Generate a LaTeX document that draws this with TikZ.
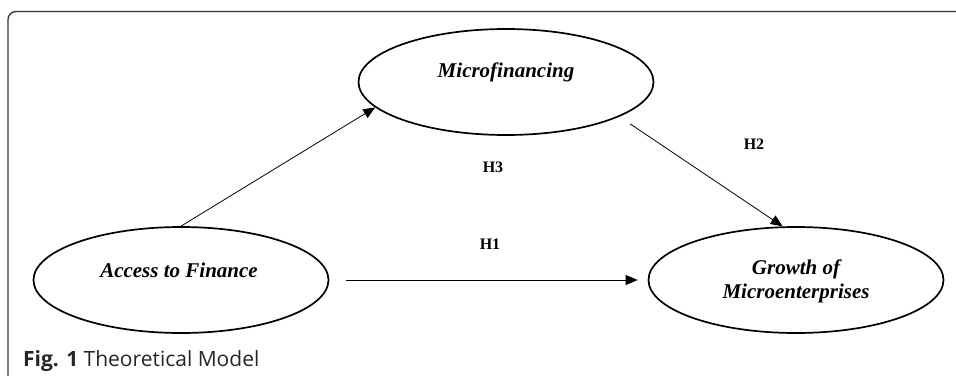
\documentclass[tikz,border=0pt]{standalone}
\usepackage{fontspec}
\setmainfont{Liberation Serif}
\setsansfont{Open Sans}
\usetikzlibrary{shapes.geometric,arrows.meta}
\begin{document}
\begin{tikzpicture}[x=1pt,y=-1pt,
  latent/.style={draw,line width=1.7pt,ellipse,minimum width=295pt,minimum height=106pt,inner sep=0pt},
  lbl/.style={font=\fontsize{21}{24}\selectfont\bfseries\itshape,align=center},
  hyp/.style={font=\fontsize{16}{18}\selectfont\bfseries},
  link/.style={line width=0.8pt,-{Triangle[length=12pt,width=10pt]}}]
\useasboundingbox (0,0) rectangle (956,375);
\draw[line width=1.3pt,black!80,rounded corners=8pt] (8,380) -- (8,11.5) -- (962,11.5);
\node[latent] (acc) at (181,280) {};
\node[latent] (mic) at (506,82) {};
\node[latent] (gro) at (796,280) {};
\node[lbl] (acct) at (179,270) {Access to Finance};
\node[lbl] (mict) at (506,72) {Microfinancing};
\node[lbl] (grot) at (796,281) {Growth of\\Microenterprises};
\draw[link] (acc.north) -- (mic.191);
\draw[link,shorten <=13pt] (mic.343) -- (gro.104);
\draw[link,shorten <=17pt,shorten >=10pt] (acc.east) -- (gro.west);
\node[hyp] (h1) at (490,244) {H1};
\node[hyp] (h2) at (754,144) {H2};
\node[hyp] (h3) at (493,167) {H3};
\node[anchor=base west,font=\sffamily\fontsize{21}{24}\selectfont,text=black!85,inner sep=0pt] (cap) at (23,366) {\textbf{Fig. 1} Theoretical Model};
\end{tikzpicture}
\end{document}
